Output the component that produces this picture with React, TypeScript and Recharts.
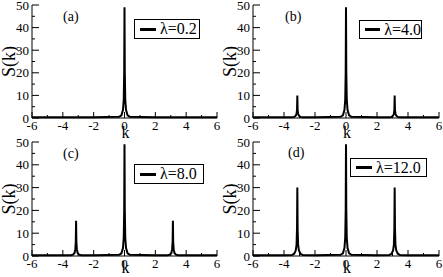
import { LineChart, Line, XAxis, YAxis, Legend } from 'recharts'

// k grid (shared by all four panels), dense around k = 0 and k = ±pi
const K = [
  -6, -4, -3.49, -3.34, -3.24, -3.19, -3.16, -3.14, -3.12, -3.09, -3.04, -2.94, -2.79, -2,
  -0.35, -0.2, -0.1, -0.05, -0.02, 0, 0.02, 0.05, 0.1, 0.2, 0.35,
  2, 2.79, 2.94, 3.04, 3.09, 3.12, 3.14, 3.16, 3.19, 3.24, 3.34, 3.49, 4, 6,
]

const S_A = [
  0.3, 0.3, 0.3, 0.3, 0.3, 0.3, 0.3, 0.3, 0.3, 0.3, 0.3, 0.3, 0.3, 0.3,
  0.5, 1.2, 3.5, 8, 20, 49, 20, 8, 3.5, 1.2, 0.5,
  0.3, 0.3, 0.3, 0.3, 0.3, 0.3, 0.3, 0.3, 0.3, 0.3, 0.3, 0.3, 0.3, 0.3,
]
const S_B = [
  0.3, 0.3, 0.3, 0.5, 1, 2, 3.5, 10, 3.5, 2, 1, 0.5, 0.3, 0.3,
  0.5, 1.2, 3.5, 8, 20, 49, 20, 8, 3.5, 1.2, 0.5,
  0.3, 0.3, 0.5, 1, 2, 3.5, 10, 3.5, 2, 1, 0.5, 0.3, 0.3, 0.3,
]
const S_C = [
  0.3, 0.3, 0.3, 0.6, 1.3, 3, 6, 15.5, 6, 3, 1.3, 0.6, 0.3, 0.3,
  0.5, 1.2, 3.5, 8, 20, 49, 20, 8, 3.5, 1.2, 0.5,
  0.3, 0.3, 0.6, 1.3, 3, 6, 15.5, 6, 3, 1.3, 0.6, 0.3, 0.3, 0.3,
]
const S_D = [
  0.3, 0.3, 0.4, 1, 2.5, 5, 12, 30, 12, 5, 2.5, 1, 0.4, 0.3,
  0.5, 1.2, 3.5, 8, 20, 49, 20, 8, 3.5, 1.2, 0.5,
  0.3, 0.4, 1, 2.5, 5, 12, 30, 12, 5, 2.5, 1, 0.4, 0.3, 0.3,
]

const TAGS = ['(a)', '(b)', '(c)', '(d)']
const LAMBDAS = ['λ=0.2', 'λ=4.0', 'λ=8.0', 'λ=12.0']
const SERIES = [S_A, S_B, S_C, S_D]

const X_TICKS = [-6, -5, -4, -3, -2, -1, 0, 1, 2, 3, 4, 5, 6]
const Y_TICKS = [0, 5, 10, 15, 20, 25, 30, 35, 40, 45, 50]

const FONT = 'Liberation Serif, Times New Roman, DejaVu Serif, serif'

// where each panel sits on the page, plus its legend box and tag
const LAYOUT = [
  { left: 0, top: 0, w: 221, mt: 5, xh: 23, kdy: 20, lg: { l: 134, t: 19, w: 66, h: 20 }, tag: { l: 63, t: 10 } },
  { left: 221, top: 0, w: 222, mt: 5, xh: 23, kdy: 20, lg: { l: 138, t: 20, w: 63, h: 19 }, tag: { l: 64, t: 10 } },
  { left: 0, top: 136, w: 221, mt: 6, xh: 21, kdy: 17, lg: { l: 134, t: 28, w: 70, h: 20 }, tag: { l: 63, t: 11 } },
  { left: 221, top: 136, w: 222, mt: 6, xh: 21, kdy: 17, lg: { l: 129, t: 22, w: 77, h: 19 }, tag: { l: 67, t: 10 } },
]

function FrameTick(props: any) {
  const { x, y, payload, side } = props
  const v = payload.value as number
  const horiz = side === 'bottom' || side === 'top'
  const major = horiz ? v % 2 === 0 : v % 10 === 0
  const len = major ? (horiz ? 6 : 7) : 3
  let line = null
  let label = null
  if (side === 'bottom') {
    line = <line x1={x} x2={x} y1={y} y2={y - len} stroke="#000" />
    if (major)
      label = (
        <text x={x} y={y + 12} textAnchor="middle" fontSize={13} fontFamily={FONT} fill="#000">
          {v}
        </text>
      )
  } else if (side === 'top') {
    line = <line x1={x} x2={x} y1={y} y2={y + len} stroke="#000" />
  } else if (side === 'left') {
    line = <line x1={x} x2={x + len} y1={y} y2={y} stroke="#000" />
    if (major)
      label = (
        <text x={x - 3} y={y} dy="0.35em" textAnchor="end" fontSize={13} fontFamily={FONT} fill="#000">
          {v}
        </text>
      )
  } else {
    line = <line x1={x} x2={x - len} y1={y} y2={y} stroke="#000" />
  }
  return (
    <g>
      {line}
      {label}
    </g>
  )
}

function KLabel(props: any) {
  const { viewBox: vb, dyk } = props
  if (!vb) return null
  return (
    <text x={vb.x + vb.width / 2 + 1} y={vb.y + dyk} textAnchor="middle" fontSize={16} fontFamily={FONT} fill="#000">
      k
    </text>
  )
}

function LegendBox(props: any) {
  const { payload, box } = props
  const name = payload && payload[0] ? payload[0].value : ''
  return (
    <div
      style={{
        width: box.w,
        height: box.h,
        boxSizing: 'border-box',
        border: '1px solid #000',
        background: '#fff',
        display: 'flex',
        alignItems: 'center',
        fontFamily: FONT,
        fontSize: 16,
        color: '#000',
        whiteSpace: 'nowrap',
      }}
    >
      <span style={{ display: 'inline-block', width: 16, height: 3, background: '#000', marginLeft: 5, marginRight: 4 }} />
      <span>{name}</span>
    </div>
  )
}

function Panel(props: { i: number }) {
  const { i } = props
  const lay = LAYOUT[i]
  const data = K.map((k, j) => ({ k, s: SERIES[i][j] }))
  return (
    <div style={{ position: 'absolute', left: lay.left, top: lay.top }}>
      <LineChart width={lay.w} height={141} data={data} margin={{ top: lay.mt, right: 4, bottom: 0, left: 0 }}>
        <XAxis
          xAxisId="b"
          dataKey="k"
          type="number"
          domain={[-6, 6]}
          ticks={X_TICKS}
          interval={0}
          height={lay.xh}
          tickSize={0}
          tickMargin={0}
          axisLine={{ stroke: '#000' }}
          tickLine={false}
          tick={(p: any) => <FrameTick {...p} side="bottom" />}
          label={{ value: 'k', content: (p: any) => <KLabel {...p} dyk={lay.kdy} /> }}
        />
        <XAxis
          xAxisId="t"
          dataKey="k"
          type="number"
          orientation="top"
          domain={[-6, 6]}
          ticks={X_TICKS}
          interval={0}
          height={0}
          tickSize={0}
          tickMargin={0}
          axisLine={{ stroke: '#000' }}
          tickLine={false}
          tick={(p: any) => <FrameTick {...p} side="top" />}
        />
        <YAxis
          yAxisId="l"
          type="number"
          domain={[0, 50]}
          ticks={Y_TICKS}
          interval={0}
          width={32}
          tickSize={0}
          tickMargin={0}
          axisLine={{ stroke: '#000' }}
          tickLine={false}
          tick={(p: any) => <FrameTick {...p} side="left" />}
          label={{
            value: 'S(k)',
            angle: -90,
            position: 'insideLeft',
            offset: 9,
            fontSize: 18,
            fontFamily: FONT,
            fill: '#000',
            style: { textAnchor: 'middle' },
          }}
        />
        <YAxis
          yAxisId="r"
          type="number"
          orientation="right"
          domain={[0, 50]}
          ticks={Y_TICKS}
          interval={0}
          width={0}
          tickSize={0}
          tickMargin={0}
          axisLine={{ stroke: '#000' }}
          tickLine={false}
          tick={(p: any) => <FrameTick {...p} side="right" />}
        />
        <Legend
          layout="horizontal"
          verticalAlign="middle"
          align="center"
          wrapperStyle={{ left: lay.lg.l, top: lay.lg.t, width: 'auto', height: 'auto' }}
          content={(p: any) => <LegendBox {...p} box={lay.lg} />}
        />
        <Line
          xAxisId="b"
          yAxisId="l"
          dataKey="s"
          name={LAMBDAS[i]}
          type="linear"
          stroke="#000"
          strokeWidth={2}
          dot={false}
          activeDot={false}
          isAnimationActive={false}
        />
      </LineChart>
      <div
        style={{
          position: 'absolute',
          left: lay.tag.l,
          top: lay.tag.t,
          fontFamily: FONT,
          fontSize: 14,
          lineHeight: '14px',
          color: '#000',
        }}
      >
        {TAGS[i]}
      </div>
    </div>
  )
}

export default function App() {
  return (
    <div style={{ position: 'absolute', left: 0, top: 0, width: 443, height: 277, background: '#fff' }}>
      {[0, 1, 2, 3].map((i) => (
        <Panel key={i} i={i} />
      ))}
    </div>
  )
}
